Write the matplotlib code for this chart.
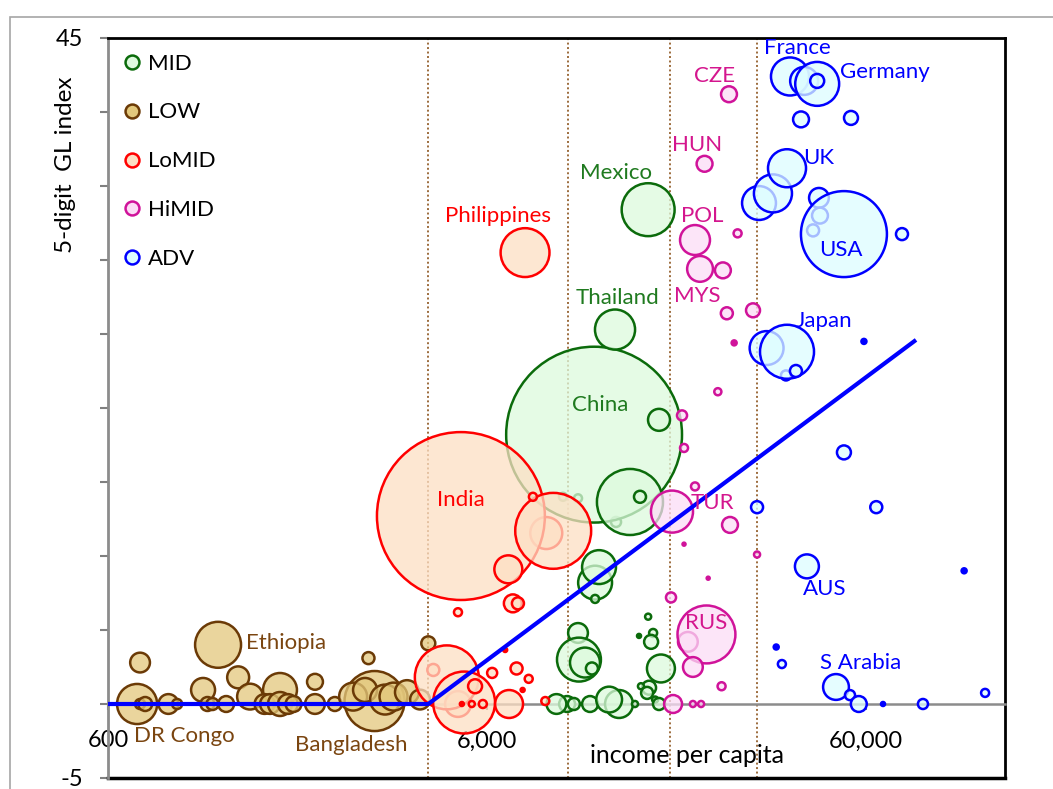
import numpy as np
import matplotlib.pyplot as plt
import matplotlib.colors as mcolors
from matplotlib.lines import Line2D
from matplotlib.patches import Rectangle

plt.rcParams['font.family'] = ['Lato', 'DejaVu Sans']

# --- data: income per capita, 5-digit GL index, bubble weight ---
low_income = [729, 716, 729, 752, 866, 913, 1171, 1069, 1098, 1132,
              1323, 1422, 1706, 1553, 1605, 1706, 1790, 1852, 2110, 2110,
              2380, 2920, 3030, 2660, 2860, 3230, 3400, 3690, 4200, 3994, 1230]
low_gl = [2.8, 0, 0, 0, 0, 0, 4.0, 0.95, 0, 0,
          1.8, 0.5, 0.95, 0, 0, 0, 0, 0, 1.5, 0,
          0, 3.1, 0.2, 0.5, 0.95, 0.3, 0.5, 0.8, 4.1, 0.3, 0]
low_pop = [17, 70, 4.4, 8.5, 17, 4.4, 92, 25, 8.5, 6.3,
           21, 29, 50, 17, 17, 25, 17, 11, 11, 17,
           8.5, 6.3, 157, 34, 25, 39, 34, 25, 8.5, 17, 11]

mid_income = [13140, 9520, 10430, 11500, 15970, 13060, 17060, 14300, 15200, 11570,
              11850, 11570, 10430, 10490, 10880, 11350, 15970, 15110, 16460, 16260,
              17260, 16060, 15290, 16660, 17060, 9760, 9150, 10170, 11220, 13380,
              12600, 14740, 15870]
mid_gl = [12.3, 14.0, 13.9, 18.2, 33.4, 25.3, 19.2, 13.65, 14.0, 8.2,
          9.25, 7.1, 4.8, 3.0, 2.8, 2.4, 5.9, 4.6, 4.8, 4.2,
          2.4, 1.1, 1.2, 0.3, 0, 0, 0, 0, 0, 0,
          0.3, 0, 0.75]
mid_pop = [4.4, 2.8, 2.8, 1347, 122, 70, 21, 190, 6.3, 50,
           50, 2.8, 17, 84, 39, 6.3, 1.6, 0.7, 2.8, 8.5,
           34, 8.5, 1.6, 1.6, 6.3, 11, 17, 6.3, 11, 34,
           29, 1.6, 6.3]

lomid_income = [8600, 4330, 5030, 5120, 7560, 8970, 6830, 7020, 7240, 5030,
                7930, 4700, 5220, 5580, 6190, 6700, 7180, 7730, 7450, 6860,
                5850, 5150, 5470, 8550]
lomid_gl = [11.55, 2.3, 0, 12.7, 30.5, 11.7, 9.1, 6.8, 6.8, 6.2,
            14.0, 1.8, 0.1, 1.2, 2.1, 3.65, 2.4, 1.7, 0.95, 0,
            0, 0, 0, 0.2]
lomid_pop = [44.5, 6.3, 29, 1228, 104, 251, 34, 14, 6.3, 2.8,
             2.8, 178, 167, 8.5, 4.4, 0.7, 6.3, 2.8, 0.7, 34,
             2.8, 0.7, 1.6, 2.8]

himid_income = [26100, 22500, 21230, 21890, 25150, 27500, 25760, 30200, 26930, 24390,
                19620, 19860, 18460, 21230, 26260, 19860, 23000, 30950, 18350, 20330,
                22760, 20960, 24950, 18580, 20960, 22030]
himid_gl = [41.2, 36.5, 31.35, 29.4, 29.3, 31.8, 26.4, 26.6, 24.4, 21.1,
            19.5, 17.3, 13.0, 14.7, 12.1, 10.8, 8.5, 10.1, 7.2, 4.2,
            4.7, 2.5, 1.2, 0, 0, 0]
himid_pop = [11, 11, 39, 29, 11, 2.8, 6.3, 8.5, 1.1, 2.2,
             4.4, 2.8, 77, 2.8, 11, 0.4, 0.4, 1.6, 4.4, 17,
             146, 17, 2.8, 14, 1.6, 1.6]

adv_income = [37810, 41200, 44600, 44600, 40430, 54770, 31320, 34090, 37130, 45080,
              45360, 43500, 52470, 74660, 32800, 36900, 37130, 39200, 59250, 52470,
              63860, 30950, 41900, 108900, 34770, 35990, 50000, 54440, 57430, 66530,
              84800, 123700]
adv_gl = [42.4, 42.1, 41.9, 42.1, 39.5, 39.6, 33.85, 34.5, 36.2, 34.2,
          33.0, 32.0, 31.75, 31.75, 24.05, 22.2, 23.8, 22.5, 24.5, 17.0,
          13.3, 13.3, 9.3, 9.0, 3.85, 2.7, 1.15, 0.6, 0, 0,
          0, 0.75]
adv_pop = [63, 34, 84, 8.5, 11, 8.5, 50, 63, 63, 17,
           11, 6.3, 322, 6.3, 50, 4.4, 127, 6.3, 1.1, 8.5,
           6.3, 6.3, 25, 1.1, 1.1, 2.8, 29, 4.4, 11, 0.7,
           4.4, 2.8]

# income-group thresholds and the fitted piecewise line
thresholds = [4200, 9820, 18240, 30950]
fit_income = [600, 4200, 81300]
fit_gl = [0, 0, 24.6]

labels = [("DR Congo", 952, -2.16, "LOW", "center"),
          ("Ethiopia", 1388, 4.1, "LOW", "left"),
          ("Bangladesh", 2626, -2.77, "LOW", "center"),
          ("India", 5120, 13.8, "LoMID", "center"),
          ("Philippines", 6414, 33.0, "LoMID", "center"),
          ("Mexico", 13140, 35.9, "MID", "center"),
          ("Thailand", 13220, 27.4, "MID", "center"),
          ("China", 11920, 20.2, "MID", "center"),
          ("CZE", 23970, 42.4, "HiMID", "center"),
          ("HUN", 21480, 37.8, "HiMID", "center"),
          ("POL", 22160, 33.0, "HiMID", "center"),
          ("MYS", 21480, 27.6, "HiMID", "center"),
          ("TUR", 23530, 13.6, "HiMID", "center"),
          ("RUS", 22700, 5.5, "HiMID", "center"),
          ("France", 39450, 44.3, "ADV", "center"),
          ("Germany", 67340, 42.7, "ADV", "center"),
          ("UK", 45090, 36.9, "ADV", "center"),
          ("USA", 51540, 30.7, "ADV", "center"),
          ("Japan", 46480, 25.9, "ADV", "center"),
          ("AUS", 46760, 7.8, "ADV", "center"),
          ("S Arabia", 58200, 2.8, "ADV", "center")]

edge = {"MID": "#0B6B0B", "LOW": "#6B3A06", "LoMID": "#FF0000",
        "HiMID": "#D0139A", "ADV": "#0000FF"}
face = {"MID": "#DDFADD", "LOW": "#E3C87C", "LoMID": "#FDDFC4",
        "HiMID": "#FCDDF6", "ADV": "#DDFDFF"}
tcol = {"MID": "#1F7A1F", "LOW": "#7A4510", "LoMID": "#FF0000",
        "HiMID": "#D4168E", "ADV": "#0000FF"}

fig = plt.figure(figsize=(10.53, 7.89), dpi=100)
fig.patches.append(Rectangle((10 / 1053, -0.1), 1.2, 1 - 17 / 789 + 0.1, transform=fig.transFigure,
                             fill=False, edgecolor="#A6A6A6", linewidth=1.2))
ax = fig.add_axes([108 / 1053, 11 / 789, 897 / 1053, 740 / 789])


def bubbles(inc, gl, pop, g, z):
    pop = np.asarray(pop, dtype=float)
    fc = [edge[g] if p <= 1.2 else mcolors.to_rgba(face[g], 0.75) for p in pop]
    ax.scatter(inc, gl, s=pop * 11.9, facecolors=fc, edgecolors=edge[g],
               linewidths=1.8, zorder=z)


bubbles(low_income, low_gl, low_pop, "LOW", 3)
bubbles(mid_income, mid_gl, mid_pop, "MID", 4)
bubbles(lomid_income, lomid_gl, lomid_pop, "LoMID", 5)
bubbles(himid_income, himid_gl, himid_pop, "HiMID", 6)
bubbles(adv_income, adv_gl, adv_pop, "ADV", 7)

for t in thresholds:
    ax.axvline(t, color="#9C6B3C", linestyle=(0, (1, 1.3)), linewidth=1.4, zorder=1)

ax.plot(fit_income, fit_gl, color="#0000FF", linewidth=3, zorder=10, solid_capstyle="butt")

for name, xi, yi, g, ha in labels:
    ax.text(xi, yi, name, color=tcol[g], fontsize=16, ha=ha, va="center", zorder=11)

ax.text(20220, -3.45, "income per capita", fontsize=18, ha="center", va="center")

ax.set_xscale("log")
ax.set_xlim(600, 139600)
ax.set_ylim(-5, 45)
ax.set_xticks([600, 6000, 60000])
ax.set_xticklabels(["600", "6,000", "60,000"])
ax.xaxis.set_minor_locator(plt.NullLocator())
yt = np.arange(-5, 46, 5)
ax.set_yticks(yt)
ax.set_yticklabels(["-5"] + [""] * 9 + ["45"])
ax.tick_params(axis="x", direction="out", length=4, width=1.5, color="#808080",
               labelsize=17, pad=15)
ax.tick_params(axis="y", direction="out", length=6, width=1.5, color="#808080",
               labelsize=17, pad=12)

ax.spines["bottom"].set_position(("data", 0))
ax.spines["bottom"].set_color("#8C8C8C")
ax.spines["bottom"].set_linewidth(1.8)
ax.spines["left"].set_color("#8C8C8C")
ax.spines["left"].set_linewidth(2)
for s in ["top", "right"]:
    ax.spines[s].set_color("black")
    ax.spines[s].set_linewidth(2)
ax.plot([0, 1], [0, 0], transform=ax.transAxes, color="black", linewidth=2.5, clip_on=False)

fig.text(66 / 1053, 1 - 165 / 789, "5-digit  GL index", rotation=90, fontsize=17.5,
         ha="center", va="center")

handles = [Line2D([], [], marker="o", linestyle="none", markersize=10,
                  markerfacecolor=face[g], markeredgecolor=edge[g], markeredgewidth=1.8)
           for g in ["MID", "LOW", "LoMID", "HiMID", "ADV"]]
ax.legend(handles, ["MID", "LOW", "LoMID", "HiMID", "ADV"], loc="upper left",
          frameon=False, fontsize=16, handlelength=0.8, handletextpad=0.3,
          labelspacing=1.3, borderaxespad=0.3)

fig.savefig("out.png", dpi=100)
